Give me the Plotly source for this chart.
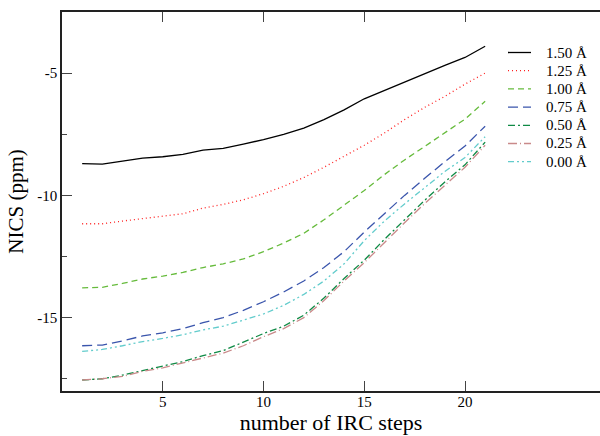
import plotly.graph_objects as go

steps = list(range(1, 22))

labels = ["1.50 Å", "1.25 Å", "1.00 Å", "0.75 Å", "0.50 Å", "0.25 Å", "0.00 Å"]

nics_150 = [-8.70, -8.72, -8.60, -8.48, -8.42, -8.32, -8.15, -8.08, -7.90, -7.72, -7.50,
            -7.25, -6.90, -6.50, -6.05, -5.70, -5.35, -5.00, -4.68, -4.36, -3.90]
nics_125 = [-11.16, -11.16, -11.05, -10.95, -10.86, -10.75, -10.52, -10.37, -10.18, -9.93, -9.63,
            -9.27, -8.85, -8.40, -7.95, -7.45, -6.90, -6.40, -5.95, -5.45, -5.00]
nics_100 = [-13.78, -13.76, -13.60, -13.42, -13.30, -13.15, -12.95, -12.80, -12.60, -12.30, -11.95,
            -11.55, -11.00, -10.40, -9.80, -9.15, -8.55, -8.00, -7.45, -6.88, -6.15]
nics_075 = [-16.15, -16.12, -15.95, -15.75, -15.62, -15.45, -15.20, -15.00, -14.70, -14.35, -13.95,
            -13.50, -12.95, -12.30, -11.50, -10.75, -10.00, -9.30, -8.62, -7.98, -7.17]
nics_050 = [-17.55, -17.50, -17.35, -17.15, -16.98, -16.80, -16.55, -16.35, -16.00, -15.65, -15.35,
            -14.90, -14.20, -13.40, -12.65, -11.80, -11.00, -10.20, -9.45, -8.75, -7.82]
nics_025 = [-17.55, -17.50, -17.40, -17.20, -17.05, -16.85, -16.65, -16.45, -16.15, -15.78, -15.45,
            -15.00, -14.30, -13.50, -12.75, -11.92, -11.12, -10.33, -9.58, -8.85, -7.95]
nics_000 = [-16.38, -16.30, -16.15, -15.98, -15.85, -15.70, -15.50, -15.35, -15.10, -14.85, -14.50,
            -14.05, -13.50, -12.80, -11.85, -11.05, -10.35, -9.68, -9.02, -8.45, -7.60]

series = [nics_150, nics_125, nics_100, nics_075, nics_050, nics_025, nics_000]

y_major = [-5, -10, -15]
y_major_text = ["-5", "-10", "-15"]
y_minor = [-2.5, -7.5, -12.5, -17.5]
x_major = [5, 10, 15, 20]

colors = ["#000000", "#ff2020", "#66bb3c", "#3a55ac", "#0f8a45", "#c98a8a", "#62cccc"]
dashes = ["solid", "1px,3px", "6px,4px", "10px,5px", "7px,3px,2px,3px",
          "9px,3px,1px,3px", "6px,3px,2px,3px,2px,3px"]

FONT = "Liberation Serif"

fig = go.Figure()
for lab, ys, c, d in zip(labels, series, colors, dashes):
    fig.add_trace(go.Scatter(x=steps, y=ys, mode="lines", name=lab, showlegend=False,
                             line=dict(color=c, dash=d, width=1.3)))

# manual legend (paper coordinates of the plot area)
L, R, T, B = 62, 600, 12, 391
def px(x):
    return (x - L) / (R - L)
def py(y):
    return (B - y) / (B - T)

row0, row_gap = 52.5, 18.2
for i, (lab, c, d) in enumerate(zip(labels, colors, dashes)):
    yy = row0 + i * row_gap
    fig.add_shape(type="line", xref="paper", yref="paper",
                  x0=px(508), x1=px(531), y0=py(yy), y1=py(yy),
                  line=dict(color=c, dash=d, width=1.3))
    fig.add_annotation(xref="paper", yref="paper", x=px(544), y=py(yy),
                       xanchor="left", yanchor="middle", showarrow=False,
                       text=lab, font=dict(size=15, family=FONT, color="black"))

fig.update_layout(
    width=600, height=436,
    margin=dict(l=62, r=0, t=12, b=45),
    paper_bgcolor="white", plot_bgcolor="white",
    font=dict(family=FONT, color="black"),
    showlegend=False,
    xaxis=dict(range=[0, 26.7], tickvals=x_major, ticks="inside", ticklen=10,
               tickcolor="#444", showline=True, linecolor="#222", linewidth=1.6,
               mirror="ticks", showgrid=False, zeroline=False,
               ticklabelstandoff=-4,
               tickfont=dict(size=15, family=FONT),
               title=dict(text="number of IRC steps", font=dict(size=22, family=FONT),
                          standoff=3)),
    yaxis=dict(range=[-18, -2.5], tickvals=y_major, ticktext=y_major_text,
               ticks="inside", ticklen=10, tickcolor="#444",
               showline=True, linecolor="#222", linewidth=1.6, showgrid=False,
               zeroline=False, tickfont=dict(size=15, family=FONT),
               minor=dict(tickvals=y_minor, ticks="inside", ticklen=5, tickcolor="#444"),
               title=dict(text="NICS (ppm)", font=dict(size=21, family=FONT),
                          standoff=8)),
    yaxis2=dict(range=[-18, -2.5], overlaying="y", side="right", anchor="x",
                tickvals=y_major, ticks="inside", ticklen=10, tickcolor="#444",
                showticklabels=False, showline=False, showgrid=False, zeroline=False,
                minor=dict(tickvals=y_minor, ticks="inside", ticklen=5, tickcolor="#444")),
)

fig.write_html("out.html")
